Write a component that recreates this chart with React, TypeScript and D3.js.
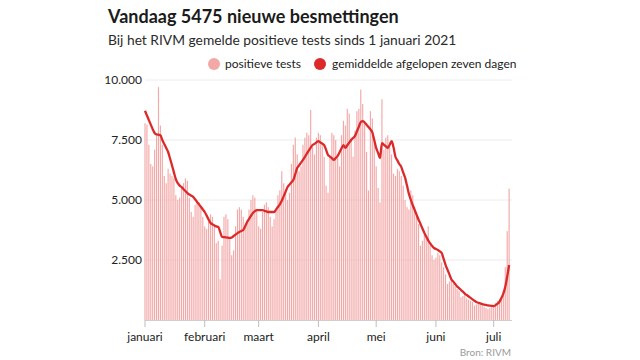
import React from "react";
import * as d3 from "d3";

// dagelijkse positieve tests, 1 januari t/m 9 juli 2021
const dailyTests = [
  8200, 8150, 7300, 6500, 6400, 7100, 7700, 9700, 8100, 7300,
  6000, 5700, 6300, 6100, 6000, 5900, 5200, 5000, 5100, 5500,
  5700, 5900, 5800, 5100, 4500, 4300, 4800, 5000, 4900, 4700,
  4300, 3900, 3800, 4100, 4400, 4300, 4000, 3200, 3300, 1700,
  3100, 4300, 4400, 4200, 3400, 2700, 2900, 3900, 4600, 4700,
  4600, 4300, 3900, 4100, 4600, 5000, 5200, 5100, 4600, 3900,
  3800, 4500, 4800, 4900, 4700, 4300, 3900, 4200, 4600, 5200,
  5400, 6200, 5700, 5400, 5000, 5300, 6500, 7300, 7600, 6900,
  6200, 6400, 7300, 7600, 7800, 7700, 8750, 7200, 6900, 7600,
  7800, 7700, 7400, 6800, 5600, 5300, 6800, 7800, 7700, 7500,
  6900, 6400, 7700, 8300, 8100, 8800, 8600, 7600, 6800, 7900,
  8700, 8800, 9600, 9000, 8300, 7000, 5400, 8700, 8400, 7600,
  6400, 5500, 4900, 9200, 7100, 7600, 7700, 7200, 6900, 6100,
  6000, 6300, 6200, 6000, 5600, 5000, 4700, 4600, 5400, 5200,
  4700, 4400, 4000, 3100, 3300, 3600, 3500, 3900, 3100, 2700,
  2500, 2600, 2800, 2700, 2400, 2200, 1900, 1500, 1600, 1800,
  1500, 1400, 1300, 1200, 950, 1000, 1100, 900, 850, 800,
  750, 600, 650, 700, 650, 600, 550, 500, 450, 500,
  550, 600, 700, 800, 850, 900, 1200, 2200, 3700, 5475,
];

// gemiddelde afgelopen zeven dagen
const weekAverage = [
  8720, 8520, 8330, 8140, 7950, 7790, 7730, 7720, 7700, 7500,
  7330, 7170, 7000, 6730, 6450, 6150, 5870, 5700, 5600, 5540,
  5450, 5370, 5290, 5230, 5180, 5130, 5030, 4920, 4820, 4720,
  4610, 4500, 4350, 4190, 4040, 3990, 3940, 3900, 3880, 3670,
  3460, 3450, 3440, 3430, 3420, 3440, 3500, 3560, 3620, 3670,
  3710, 3750, 3910, 4080, 4210, 4340, 4460, 4530, 4580, 4580,
  4580, 4580, 4550, 4530, 4500, 4500, 4500, 4500, 4600, 4710,
  4820, 4970, 5160, 5350, 5540, 5640, 5740, 5830, 6080, 6330,
  6440, 6560, 6670, 6800, 6930, 7060, 7180, 7290, 7340, 7400,
  7450, 7400, 7350, 7290, 7090, 6880, 6810, 6740, 6670, 6750,
  6840, 6990, 7150, 7290, 7170, 7280, 7390, 7500, 7580, 7670,
  7860, 8050, 8250, 8290, 8230, 8140, 8040, 7940, 7820, 7500,
  7170, 6960, 6750, 7370, 7300, 7240, 7170, 7300, 7450, 7200,
  6800, 6650, 6500, 6380, 6150, 5930, 5600, 5250, 5000, 4780,
  4580, 4380, 4180, 4000, 3810, 3630, 3470, 3320, 3190, 3090,
  3000, 2960, 2920, 2860, 2790, 2550, 2300, 2100, 1900, 1700,
  1600, 1500, 1400, 1330, 1250, 1180, 1100, 1040, 980, 920,
  860, 800, 750, 720, 690, 660, 640, 625, 610, 600,
  590, 580, 620, 680, 760, 920, 1100, 1380, 1800, 2290,
];

const yTicks = [2500, 5000, 7500, 10000];
const monthLabels = ["januari", "februari", "maart", "april", "mei", "juni", "juli"];

const startDate = new Date(2021, 0, 1);
const dates = dailyTests.map((_, i) => d3.timeDay.offset(startDate, i));

const nl = d3.formatLocale({ decimal: ",", thousands: ".", grouping: [3], currency: ["€", ""] });
const fmt = nl.format(",");

const FONT = "Lato, 'Open Sans', sans-serif";
const BAR = "#f3a8a8";
const LINE = "#dc2a2a";

export default function App() {
  const width = 640;
  const height = 360;
  const left = 145;
  const right = 512;
  const top = 80;
  const bottom = 320;

  const x = d3
    .scaleTime()
    .domain([startDate, new Date(2021, 6, 10, 12)])
    .range([left, right]);
  const y = d3.scaleLinear().domain([0, 10000]).range([bottom, top]);

  const months = d3.timeMonth.range(startDate, new Date(2021, 6, 2));

  const line = d3
    .line<number>()
    .x((_, i) => x(dates[i]))
    .y((v) => y(v))
    .curve(d3.curveMonotoneX);

  const barW = 1.15;

  return (
    <svg
      width={width}
      height={height}
      style={{ position: "absolute", left: 0, top: 0, fontFamily: FONT }}
    >
      <rect width={width} height={height} fill="#fff" />
      <text x={108} y={23} fontSize={18} fontWeight={700} fill="#1b1b1b">
        Vandaag 5475 nieuwe besmettingen
      </text>
      <text x={108} y={45} fontSize={13.8} fill="#2a2a2a">
        Bij het RIVM gemelde positieve tests sinds 1 januari 2021
      </text>

      {/* legenda */}
      <circle cx={214} cy={64} r={6} fill={BAR} />
      <text x={225} y={68} fontSize={12} fill="#222">positieve tests</text>
      <circle cx={320} cy={64} r={6} fill={LINE} />
      <text x={332} y={68} fontSize={12} fill="#222">gemiddelde afgelopen zeven dagen</text>

      {/* rasterlijnen */}
      {yTicks.map((t) => (
        <g key={t}>
          <line x1={left} x2={right} y1={y(t)} y2={y(t)} stroke="#ececec" strokeWidth={1} />
          <text x={142} y={y(t) + 4} fontSize={12} textAnchor="end" fill="#222">
            {fmt(t)}
          </text>
        </g>
      ))}

      {/* staafjes */}
      {dailyTests.map((v, i) => (
        <rect
          key={i}
          x={x(dates[i]) - barW / 2}
          y={y(v)}
          width={barW}
          height={y(0) - y(v)}
          fill={BAR}
        />
      ))}

      <path d={line(weekAverage) || ""} fill="none" stroke={LINE} strokeWidth={2.3} strokeLinejoin="round" />

      {/* x-as */}
      <line x1={left} x2={right} y1={bottom + 0.5} y2={bottom + 0.5} stroke="#cfcfcf" />
      {months.map((m, i) => (
        <g key={i}>
          <line x1={x(m)} x2={x(m)} y1={bottom} y2={bottom + 7} stroke="#bdbdbd" />
          <text x={x(m)} y={341} fontSize={12} textAnchor="middle" fill="#222">
            {monthLabels[i]}
          </text>
        </g>
      ))}

      <text x={511} y={356} fontSize={10} textAnchor="end" fill="#9a9a9a">
        Bron: RIVM
      </text>
    </svg>
  );
}
